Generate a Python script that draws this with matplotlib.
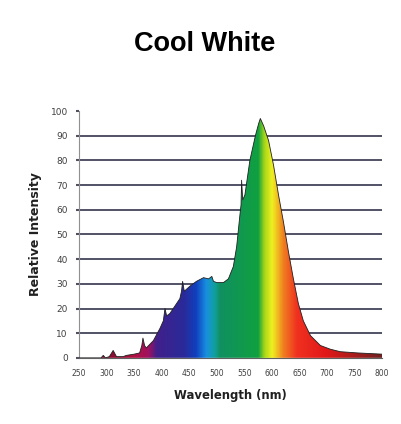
import numpy as np
import matplotlib
matplotlib.use("Agg")
import matplotlib.pyplot as plt
from matplotlib.colors import LinearSegmentedColormap
from matplotlib.patches import Polygon

# Spectrum data
wavelength = [250, 290, 294, 298, 305, 312, 318, 330, 336, 350, 360, 364, 366, 369, 372,
              385, 397, 403, 406, 409, 415, 421, 433, 436, 438, 441, 451, 463, 476, 485,
              491, 494, 500, 512, 521, 530, 536, 542, 544, 545, 547, 551, 560, 570, 576,
              579, 585, 594, 603, 612, 621, 630, 639, 648, 657, 670, 688, 706, 724, 755, 800]
intensity = [0, 0, 1, 0, 0.5, 3, 0.5, 0.5, 1, 1.5, 2, 5, 8, 5, 4,
             7, 12, 15, 20, 17, 18, 20, 24, 27, 31, 27, 29, 31, 32.5, 32,
             33, 31, 30.5, 30.5, 32, 37, 45, 58, 62, 72, 64, 66, 80, 90, 95,
             97, 94, 88, 78, 66, 55, 43, 32, 22, 15, 9, 5, 3.5, 2.5, 2, 1.5]

x_ticks = [250, 300, 350, 400, 450, 500, 550, 600, 650, 700, 750, 800]
y_ticks = [0, 10, 20, 30, 40, 50, 60, 70, 80, 90, 100]

title = "Cool White"
x_label = "Wavelength (nm)"
y_label = "Relative Intensity"

# color stops (wavelength, color)
stops_wl = [250, 350, 375, 390, 440, 462, 480, 495, 505, 575, 586, 600, 620, 645, 700, 800]
stops_c = ["#5a0a20", "#b01040", "#a01060", "#40208a", "#2a2a9a", "#1040c0", "#1890e0",
           "#10a0a0", "#109060", "#10a040", "#a8d818", "#f0f020", "#f08020", "#f03020",
           "#e01818", "#702020"]

fig = plt.figure(figsize=(4.01, 4.24), dpi=100)
ax = fig.add_axes([0.197, 0.156, 0.756, 0.582])

xmin, xmax = 250, 800
pos = [(w - xmin) / (xmax - xmin) for w in stops_wl]
cmap = LinearSegmentedColormap.from_list("spec", list(zip(pos, stops_c)))

for yv in y_ticks[1:-1]:
    ax.axhline(yv, color="#44445a", lw=1.3, zorder=1)

grad = np.linspace(0, 1, 600).reshape(1, -1)
im = ax.imshow(grad, extent=[xmin, xmax, 0, 100], aspect="auto", cmap=cmap, zorder=2,
               interpolation="bilinear")
verts = list(zip(wavelength, intensity)) + [(xmax, 0), (xmin, 0)]
poly = Polygon(verts, closed=True, transform=ax.transData, facecolor="none", edgecolor="none")
ax.add_patch(poly)
im.set_clip_path(poly)
ax.plot(wavelength, intensity, color="#202020", lw=0.6, zorder=3)

ax.set_xlim(xmin, xmax)
ax.set_ylim(0, 100)
ax.set_xticks(x_ticks)
ax.set_xticklabels([str(v) for v in x_ticks], fontsize=5.5, color="#404040")
ax.set_yticks(y_ticks)
ax.set_yticklabels([str(v) for v in y_ticks], fontsize=6.5, color="#404040")
ax.tick_params(axis="y", length=2, width=1.5, color="#505060", pad=6)
ax.tick_params(axis="x", length=0, pad=8)
for s in ["top", "right"]:
    ax.spines[s].set_visible(False)
ax.spines["left"].set_color("#909090")
ax.spines["left"].set_linewidth(0.8)
ax.spines["bottom"].set_color("#606060")
ax.spines["bottom"].set_linewidth(0.8)

ax.set_xlabel(x_label, fontsize=8.4, fontweight="bold", color="#202020", labelpad=8)
ax.set_ylabel(y_label, fontsize=9, fontweight="bold", color="#202020", labelpad=6)
fig.text(0.51, 0.897, title, ha="center", va="center", fontsize=19.5, fontweight="bold",
         family="Liberation Sans")

fig.savefig("out.png", dpi=100, facecolor="white")
